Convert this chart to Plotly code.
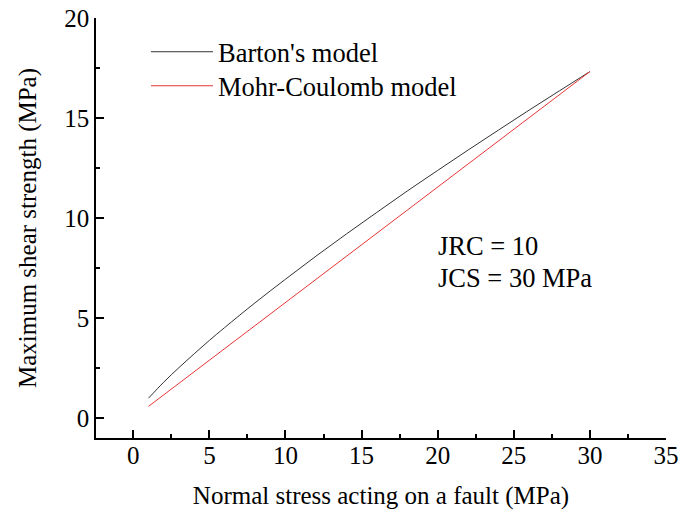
import plotly.graph_objects as go

# Data
sigma_barton = [1, 2, 3, 4, 5, 6, 8, 10, 12, 14, 16, 18, 20, 22, 24, 26, 28, 30]
tau_barton = [0.99, 1.79, 2.52, 3.21, 3.88, 4.52, 5.76, 6.94, 8.09, 9.20, 10.28,
              11.35, 12.38, 13.40, 14.40, 15.39, 16.36, 17.32]
sigma_mc = [1, 30]
tau_mc = [0.58, 17.32]

FONT = "Liberation Serif"

fig = go.Figure()
fig.add_trace(go.Scatter(x=sigma_barton, y=tau_barton, mode="lines",
                         line=dict(color="#333333", width=1, shape="spline"),
                         name="Barton's model", legend="legend", showlegend=True))
fig.add_trace(go.Scatter(x=sigma_mc, y=tau_mc, mode="lines",
                         line=dict(color="#e83535", width=1),
                         name="Mohr-Coulomb model", legend="legend2", showlegend=True))

axis_common = dict(
    showline=True, linecolor="black", linewidth=1.5,
    ticks="inside", ticklen=8, tickwidth=1.5, tickcolor="black",
    showgrid=False, zeroline=False, mirror=False, automargin=False,
    tickfont=dict(family=FONT, size=25, color="black"),
)

legend_common = dict(xanchor="left", yanchor="middle", bgcolor="rgba(0,0,0,0)",
                     font=dict(family=FONT, size=26.5), itemwidth=62)

fig.update_layout(
    width=692, height=513,
    showlegend=True,
    margin=dict(l=96, r=26, t=18, b=75),
    paper_bgcolor="white", plot_bgcolor="white",
    font=dict(family=FONT, color="black"),
    xaxis=dict(range=[-2.45, 35], tickvals=[0, 5, 10, 15, 20, 25, 30, 35],
               ticklabelstandoff=-6,
               minor=dict(ticks="inside", ticklen=4, tickwidth=1.5, tickcolor="black",
                          tickvals=[2.5, 7.5, 12.5, 17.5, 22.5, 27.5, 32.5]),
               title=dict(text="Normal stress acting on a fault (MPa)",
                          font=dict(family=FONT, size=25), standoff=19),
               **axis_common),
    yaxis=dict(range=[-1, 20], tickvals=[0, 5, 10, 15, 20],
               minor=dict(ticks="inside", ticklen=4, tickwidth=1.5, tickcolor="black",
                          tickvals=[2.5, 7.5, 12.5, 17.5]),
               title=dict(text="Maximum shear strength (MPa)",
                          font=dict(family=FONT, size=25), standoff=21),
               **axis_common),
    legend=dict(x=0.0877, y=0.919, **legend_common),
    legend2=dict(x=0.0877, y=0.838, **legend_common),
    annotations=[
        dict(x=0.597, y=0.458, xref="paper", yref="paper", xanchor="left", yanchor="middle",
             text="JRC = 10", showarrow=False, font=dict(family=FONT, size=26.5)),
        dict(x=0.597, y=0.382, xref="paper", yref="paper", xanchor="left", yanchor="middle",
             text="JCS = 30 MPa", showarrow=False, font=dict(family=FONT, size=26.5)),
    ],
)

fig.write_html("out.html", config={"displayModeBar": False},
               post_script="document.body.style.margin='0';")
